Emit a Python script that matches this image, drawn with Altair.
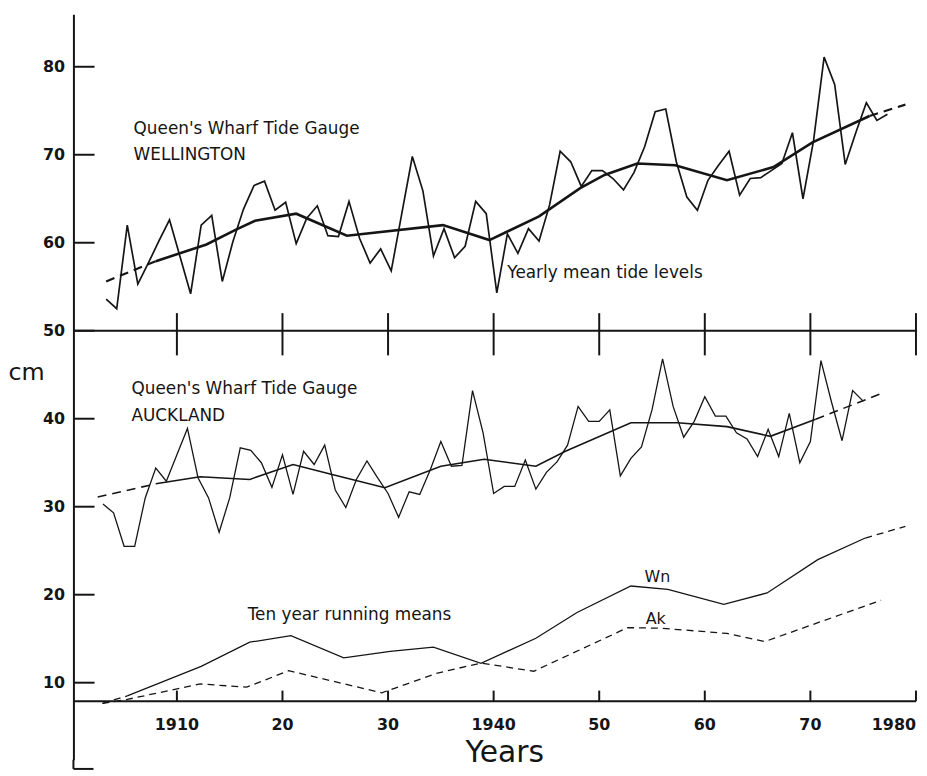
import altair as alt
import pandas as pd

# ---------------- values ----------------
# Queen's Wharf, Wellington: yearly mean tide level (cm), 1903-1977
WN_FIRST_YEAR = 1903
wn_yearly = [
    53.6, 52.5, 62.0, 55.3, 57.7, 60.2, 62.6, 58.4, 54.2, 62.0,
    63.1, 55.6, 60.1, 63.8, 66.5, 67.0, 63.7, 64.6, 59.9, 62.8,
    64.2, 60.8, 60.7, 64.7, 60.5, 57.7, 59.3, 56.8, 63.3, 69.8,
    65.9, 58.5, 61.6, 58.3, 59.6, 64.7, 63.3, 54.3, 61.0, 58.8,
    61.6, 60.2, 64.3, 70.4, 69.2, 66.4, 68.2, 68.2, 67.3, 66.0,
    68.0, 70.9, 74.9, 75.2, 69.2, 65.2, 63.7, 67.1, 68.8, 70.4,
    65.4, 67.3, 67.4, 68.2, 69.0, 72.5, 65.0, 71.6, 81.1, 78.0,
    68.9, 72.5, 75.9, 73.9, 74.6,
]
# Queen's Wharf, Auckland: yearly mean tide level (cm), 1903-1975
AK_FIRST_YEAR = 1903
ak_yearly = [
    30.3, 29.3, 25.5, 25.5, 31.0, 34.4, 32.9, 35.9, 38.9, 33.3,
    31.0, 27.1, 31.0, 36.7, 36.4, 35.0, 32.2, 35.9, 31.4, 36.3,
    34.8, 37.0, 31.9, 29.9, 33.1, 35.2, 33.3, 31.5, 28.8, 31.7,
    31.4, 34.2, 37.4, 34.6, 34.7, 43.2, 38.4, 31.5, 32.3, 32.3,
    35.3, 32.0, 33.9, 35.1, 37.0, 41.4, 39.7, 39.7, 41.0, 33.5,
    35.5, 36.8, 41.0, 46.8, 41.4, 37.9, 39.7, 42.5, 40.3, 40.3,
    38.4, 37.7, 35.7, 38.8, 35.7, 40.6, 35.0, 37.4, 46.6, 41.9,
    37.5, 43.2, 42.0,
]

# smoothed trend drawn through each yearly series (solid part)
wn_trend_years = [1908.0, 1912.8, 1915.6, 1917.4, 1921.3, 1926.1, 1935.2, 1939.6,
                  1944.3, 1948.2, 1950.5, 1953.6, 1957.2, 1962.1, 1966.5, 1970.2, 1975.6]
wn_trend_vals = [57.9, 59.8, 61.5, 62.5, 63.3, 60.8, 62.0, 60.3,
                 63.0, 66.2, 67.7, 69.0, 68.8, 67.1, 68.6, 71.4, 74.4]
wn_trend_head = ([1903.3, 1908.0], [55.6, 57.9])   # dashed extrapolations
wn_trend_tail = ([1975.6, 1979.0], [74.4, 75.7])

ak_trend_years = [1908.0, 1912.2, 1916.9, 1921.0, 1924.7, 1929.7, 1935.0, 1939.1,
                  1944.0, 1946.8, 1953.0, 1957.4, 1962.1, 1966.2, 1970.5]
ak_trend_vals = [32.6, 33.4, 33.1, 34.8, 33.65, 32.15, 34.6, 35.4,
                 34.6, 36.3, 39.55, 39.55, 39.1, 38.0, 39.95]
ak_trend_head = ([1902.5, 1908.0], [31.1, 32.6])
ak_trend_tail = ([1970.5, 1976.6], [39.95, 42.8])

# ten year running means
wn_run_years = [1905.3, 1912.3, 1916.9, 1920.8, 1925.8, 1930.2, 1934.3, 1938.8,
                1944.0, 1947.9, 1953.0, 1956.5, 1961.8, 1965.9, 1970.7, 1975.2]
wn_run_vals = [8.5, 11.86, 14.6, 15.35, 12.83, 13.55, 14.04, 12.2,
               15.05, 17.98, 20.99, 20.6, 18.9, 20.2, 23.99, 26.44]
wn_run_head = ([1902.95, 1905.3], [7.64, 8.5])
wn_run_tail = ([1975.2, 1979.0], [26.44, 27.76])
ak_run_years = [1902.95, 1905.3, 1912.2, 1916.6, 1920.6, 1929.4, 1934.7, 1938.8,
                1943.8, 1952.7, 1956.0, 1962.1, 1965.7, 1976.7]
ak_run_vals = [7.64, 8.1, 9.86, 9.49, 11.36, 8.85, 11.1, 12.23,
               11.3, 16.26, 16.18, 15.6, 14.68, 19.37]

# axis ticks / labels
y_ticks = [10, 20, 30, 40, 50, 60, 70, 80]
decade_years = [1910, 1920, 1930, 1940, 1950, 1960, 1970, 1980]
decade_labels = ["1910", "20", "30", "1940", "50", "60", "70", "1980"]

# ---------------- layout constants ----------------
INK = "#151515"
FONT = "DejaVu Sans"
X0, X1 = 1900.2, 1980.1
Y0, Y1 = 1.24, 85.96
WN_SHIFT = 0.3        # registration of the upper panel's yearly points
BASE_V = 7.9          # level of the bottom year axis
DIV_V = 50            # level of the panel divider
FOOT_V = 0.2          # lower end of the vertical axis line

X = alt.X("x:Q", scale=alt.Scale(domain=[X0, X1], nice=False, zero=False), axis=None)
Y = alt.Y(
    "v:Q",
    scale=alt.Scale(domain=[Y0, Y1], nice=False, zero=False),
    axis=alt.Axis(
        values=y_ticks, grid=False, ticks=False, tickSize=0,
        domain=True, domainColor=INK, domainWidth=2,
        labelFont=FONT, labelFontWeight="bold", labelFontSize=16,
        labelColor=INK, labelPadding=9,
        title="cm", titleAngle=0, titleX=-66, titleY=361,
        titleAlign="left", titleBaseline="middle",
        titleFont=FONT, titleFontSize=24, titleFontWeight="normal", titleColor=INK,
    ),
)


def line(xs, vs, width, dash=None):
    df = pd.DataFrame({"x": xs, "v": vs})
    kw = dict(color=INK, strokeWidth=width, strokeJoin="miter")
    if dash:
        kw["strokeDash"] = dash
    return alt.Chart(df).mark_line(**kw).encode(x=X, y=Y)


wn_x = [WN_FIRST_YEAR + i + WN_SHIFT for i in range(len(wn_yearly))]
ak_x = [AK_FIRST_YEAR + i for i in range(len(ak_yearly))]

layers = [
    line(wn_x, wn_yearly, 1.7),
    line(wn_trend_years, wn_trend_vals, 2.6),
    line(*wn_trend_head, 2.2, [9, 6]),
    line(*wn_trend_tail, 2.2, [9, 6]),
    line(ak_x, ak_yearly, 1.3),
    line(ak_trend_years, ak_trend_vals, 1.6),
    line(*ak_trend_head, 1.6, [9, 6]),
    line(*ak_trend_tail, 1.6, [9, 6]),
    line(wn_run_years, wn_run_vals, 1.3),
    line(*wn_run_head, 1.3, [7, 5]),
    line(*wn_run_tail, 1.3, [7, 5]),
    line(ak_run_years, ak_run_vals, 1.3, [7, 5]),
]

# rule segments: divider, bottom year axis, ticks, axis extension and foot
segs = [
    (X0, X1, DIV_V, DIV_V),
    (X0, 1980.0, BASE_V, BASE_V),
    (X0, X0, FOOT_V, Y0),
    (X0, X0 + 1.9, FOOT_V, FOOT_V),
]
segs += [(yr, yr, DIV_V - 2.8, DIV_V + 2.0) for yr in decade_years]
segs += [(yr, yr, BASE_V, BASE_V + 1.2) for yr in decade_years]
segs += [(X0, X0 + 2.0, t, t) for t in y_ticks]
rules = pd.DataFrame(segs, columns=["x", "x2", "v", "v2"])
layers.append(
    alt.Chart(rules).mark_rule(color=INK, strokeWidth=2).encode(
        x=X, x2=alt.X2("x2:Q"), y=Y, y2=alt.Y2("v2:Q")
    )
)

# bottom tick labels
lab = pd.DataFrame({"x": decade_years, "v": [5.18] * len(decade_years), "t": decade_labels})
layers.append(
    alt.Chart(lab[lab.t != "1980"]).mark_text(
        font=FONT, fontWeight="bold", fontSize=16, color=INK, align="center", baseline="middle"
    ).encode(x=X, y=Y, text="t:N")
)
layers.append(
    alt.Chart(lab[lab.t == "1980"]).mark_text(
        font=FONT, fontWeight="bold", fontSize=16, color=INK, align="right", baseline="middle"
    ).encode(x=X, y=Y, text="t:N")
)


# annotations
def note(rows, size, align="left", baseline="middle"):
    df = pd.DataFrame(rows, columns=["t", "x", "v"])
    return alt.Chart(df).mark_text(
        font=FONT, fontSize=size, color=INK, align=align, baseline=baseline
    ).encode(x=X, y=Y, text="t:N")


layers.append(note([
    ("Queen's Wharf Tide Gauge", 1905.9, 72.9),
    ("WELLINGTON", 1905.9, 69.96),
    ("Queen's Wharf Tide Gauge", 1905.7, 43.4),
    ("AUCKLAND", 1905.7, 40.35),
], 17))
layers.append(note([
    ("Yearly mean tide levels", 1941.3, 56.5),
    ("Ten year running means", 1916.7, 17.7),
], 17))
layers.append(note([("Wn", 1954.3, 22.0), ("Ak", 1954.4, 17.2)], 16))
layers.append(note([("Years", 1941.05, 1.0)], 30, align="center", baseline="alphabetic"))

chart = (
    alt.layer(*layers)
    .properties(
        width=851,
        height=752,
        padding={"left": 66, "top": 3, "right": 2, "bottom": 13},
        autosize=alt.AutoSizeParams(type="none"),
        background="white",
    )
    .configure_view(stroke=None)
)

chart.save("out.html", embed_options={"renderer": "svg", "actions": False})
